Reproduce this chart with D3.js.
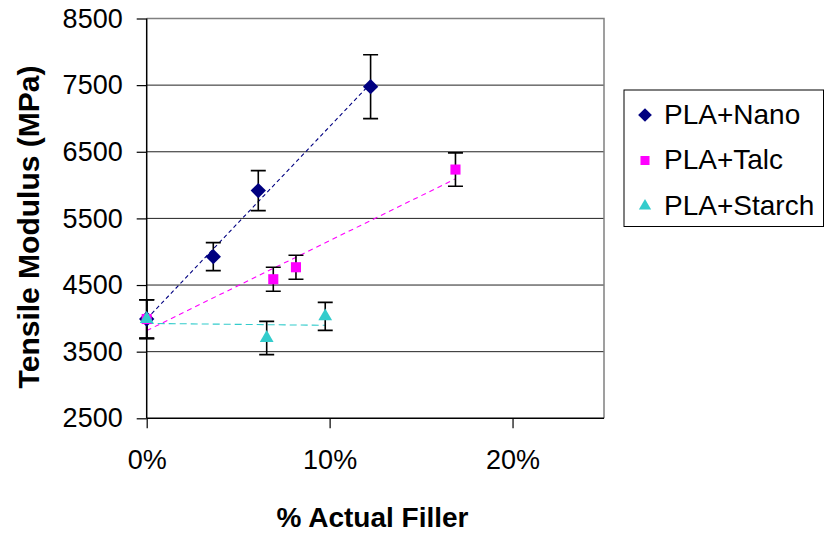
<!DOCTYPE html>
<html>
<head>
<meta charset="utf-8">
<script src="https://cdn.jsdelivr.net/npm/d3@7"></script>
<style>
	body { margin: 0; background: #fff; }
	svg { font-family: "Liberation Sans", Arial, sans-serif; }
</style>
</head>
<body>
<svg id="chart" width="825" height="534"></svg>
<script>
// series values (x = fraction of filler, y = tensile modulus in MPa)
const nanoX = [0, 0.0364, 0.061, 0.1224];
const nanoY = [3990, 4926, 5917, 7477];
const nanoErr = [290, 210, 300, 480];

const talcX = [0, 0.0692, 0.0816, 0.1688];
const talcY = [3990, 4587, 4767, 6233];
const talcErr = [290, 180, 180, 250];

const starchX = [0, 0.0656, 0.0976];
const starchY = [3990, 3705, 4030];
const starchErr = [290, 250, 210];

const seriesNames = ["PLA+Nano", "PLA+Talc", "PLA+Starch"];
const yTicks = [2500, 3500, 4500, 5500, 6500, 7500, 8500];
const xTicks = [0, 0.1, 0.2];

const series = [
	{ name: seriesNames[0], xs: nanoX, ys: nanoY, err: nanoErr, color: "#000080", symbol: d3.symbolDiamond2, size: 150, dash: "4,3" },
	{ name: seriesNames[1], xs: talcX, ys: talcY, err: talcErr, color: "#ff00ff", symbol: d3.symbolSquare2, size: 130, dash: "5,4" },
	{ name: seriesNames[2], xs: starchX, ys: starchY, err: starchErr, color: "#33cccc", symbol: d3.symbolTriangle, size: 82, dash: "7,4" }
];

const svg = d3.select("#chart");
const plotLeft = 146.7, plotRight = 604, plotTop = 18.5, plotBottom = 418.3;

const x = d3.scaleLinear().domain([0, 0.25]).range([plotLeft, plotRight]);
const y = d3.scaleLinear().domain([2500, 8500]).range([plotBottom, plotTop]);

// gridlines
svg.append("g")
	.selectAll("line")
	.data(yTicks.filter(d => d !== 2500 && d !== 8500))
	.join("line")
	.attr("x1", plotLeft).attr("x2", plotRight)
	.attr("y1", d => y(d)).attr("y2", d => y(d))
	.attr("stroke", "#222").attr("stroke-width", 1);

// top and right border
svg.append("path")
	.attr("d", `M${plotLeft},${y(8500)}H${plotRight}V${plotBottom}`)
	.attr("fill", "none").attr("stroke", "#808080").attr("stroke-width", 1.5);

// axes
const yAxis = svg.append("g")
	.attr("transform", `translate(${plotLeft},0)`)
	.call(d3.axisLeft(y).tickValues(yTicks).tickSize(10).tickPadding(14).tickFormat(d3.format("d")));
const xAxis = svg.append("g")
	.attr("transform", `translate(0,${plotBottom})`)
	.call(d3.axisBottom(x).tickValues(xTicks).tickSize(10).tickPadding(22).tickFormat(d3.format(".0%")));

[yAxis, xAxis].forEach(a => {
	a.select(".domain").remove();
	a.selectAll("line").attr("stroke", "#000").attr("stroke-width", 1.2);
	a.selectAll("text").attr("font-size", 27).attr("fill", "#000")
		.attr("font-family", "'Liberation Sans', Arial, sans-serif");
});

svg.append("line").attr("x1", plotLeft).attr("x2", plotLeft).attr("y1", plotTop).attr("y2", plotBottom)
	.attr("stroke", "#000").attr("stroke-width", 1.5);
svg.append("line").attr("x1", plotLeft).attr("x2", plotRight).attr("y1", plotBottom).attr("y2", plotBottom)
	.attr("stroke", "#000").attr("stroke-width", 1.5);

// linear trendlines (least squares)
function fit(xs, ys) {
	const mx = d3.mean(xs), my = d3.mean(ys);
	const sxy = d3.sum(xs, (v, i) => (v - mx) * (ys[i] - my));
	const sxx = d3.sum(xs, v => (v - mx) * (v - mx));
	const b = sxy / sxx;
	return [b, my - b * mx];
}

series.forEach(s => {
	const [b, a] = fit(s.xs, s.ys);
	const x0 = d3.min(s.xs), x1 = d3.max(s.xs);
	svg.append("line")
		.attr("x1", x(x0)).attr("y1", y(a + b * x0))
		.attr("x2", x(x1)).attr("y2", y(a + b * x1))
		.attr("stroke", s.color).attr("stroke-width", 1.1)
		.attr("stroke-dasharray", s.dash);
});

// error bars
series.forEach(s => {
	const g = svg.append("g").attr("stroke", "#000").attr("stroke-width", 1.6).attr("fill", "none");
	s.xs.forEach((xv, i) => {
		const cx = x(xv), y1 = y(s.ys[i] + s.err[i]), y2 = y(s.ys[i] - s.err[i]);
		g.append("path").attr("d", `M${cx},${y1}V${y2}M${cx - 7.5},${y1}H${cx + 7.5}M${cx - 7.5},${y2}H${cx + 7.5}`);
	});
});

// markers
series.forEach(s => {
	svg.append("g")
		.selectAll("path")
		.data(s.xs.map((v, i) => [v, s.ys[i]]))
		.join("path")
		.attr("transform", d => `translate(${x(d[0])},${y(d[1])})`)
		.attr("d", d3.symbol(s.symbol, s.size))
		.attr("fill", s.color);
});

// axis titles
svg.append("text")
	.attr("x", 372.5).attr("y", 527)
	.attr("text-anchor", "middle")
	.attr("font-size", 28).attr("font-weight", "bold")
	.text("% Actual Filler");
svg.append("text")
	.attr("transform", "translate(39,227) rotate(-90)")
	.attr("text-anchor", "middle")
	.attr("font-size", 30).attr("font-weight", "bold")
	.text("Tensile Modulus (MPa)");

// legend
const legend = svg.append("g");
legend.append("rect")
	.attr("x", 624).attr("y", 90).attr("width", 199.5).attr("height", 136.5)
	.attr("fill", "#fff").attr("stroke", "#000").attr("stroke-width", 1);
series.forEach((s, i) => {
	const ly = 115 + i * 45.5;
	legend.append("path")
		.attr("transform", `translate(645,${ly})`)
		.attr("d", d3.symbol(s.symbol, s.size * 0.8))
		.attr("fill", s.color);
	legend.append("text")
		.attr("x", 664).attr("y", ly + 8.5)
		.attr("font-size", 28)
		.text(s.name);
});
</script>
</body>
</html>
